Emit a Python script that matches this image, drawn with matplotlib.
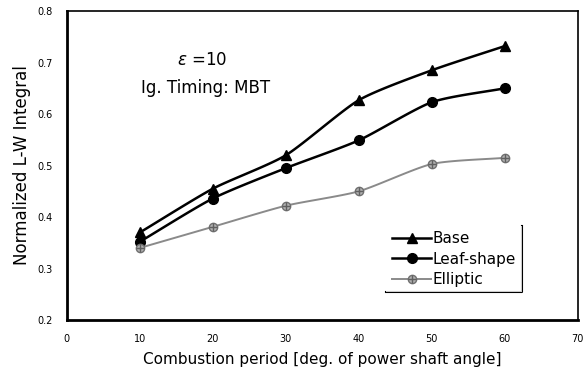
import numpy as np
import matplotlib
matplotlib.use('Agg')
import matplotlib.pyplot as plt
from matplotlib.lines import Line2D

period = [10, 20, 30, 40, 50, 60]
base = [0.370, 0.455, 0.520, 0.627, 0.685, 0.732]
leaf_shape = [0.352, 0.436, 0.495, 0.549, 0.623, 0.650]
elliptic = [0.340, 0.381, 0.422, 0.450, 0.503, 0.515]


def smooth(xs, ys, n=20, k=9.0):
    # mild Bezier smoothing, like spreadsheet "smoothed line"
    x = np.asarray(xs, float)
    y = np.asarray(ys, float)
    px = np.concatenate([[2 * x[0] - x[1]], x, [2 * x[-1] - x[-2]]])
    py = np.concatenate([[2 * y[0] - y[1]], y, [2 * y[-1] - y[-2]]])
    out_x, out_y = [], []
    t = np.linspace(0, 1, n)
    for i in range(1, len(px) - 2):
        for arr, out in ((px, out_x), (py, out_y)):
            p0, p1, p2, p3 = arr[i - 1], arr[i], arr[i + 1], arr[i + 2]
            c1 = p1 + (p2 - p0) / k
            c2 = p2 - (p3 - p1) / k
            seg = ((1 - t) ** 3 * p1 + 3 * (1 - t) ** 2 * t * c1
                   + 3 * (1 - t) * t ** 2 * c2 + t ** 3 * p2)
            out.extend(seg)
    return out_x, out_y


def main():
    fig = plt.figure(figsize=(5.86, 3.81), dpi=100)
    ax = fig.add_axes([0.114, 0.160, 0.872, 0.811])

    sx, sy = smooth(period, base)
    ax.plot(sx, sy, color='black', lw=1.8)
    ax.plot(period, base, '^', color='black', ms=7)
    sx, sy = smooth(period, leaf_shape)
    ax.plot(sx, sy, color='black', lw=1.8)
    ax.plot(period, leaf_shape, 'o', color='black', ms=7)
    sx, sy = smooth(period, elliptic)
    ax.plot(sx, sy, color='#8a8a8a', lw=1.4)
    ax.plot(period, elliptic, 'o', mfc='#b0b0b0', mec='#707070', ms=6)
    ax.plot(period, elliptic, '+', color='#606060', ms=6, mew=1)

    h_base = Line2D([], [], color='black', lw=1.8, marker='^', ms=7)
    h_leaf = Line2D([], [], color='black', lw=1.8, marker='o', ms=7)
    h_ell = (Line2D([], [], color='#8a8a8a', lw=1.4, marker='o',
                    mfc='#b0b0b0', mec='#707070', ms=6),
             Line2D([], [], ls='none', marker='+', color='#606060', ms=6))
    leg = ax.legend([h_base, h_leaf, h_ell], ['Base', 'Leaf-shape', 'Elliptic'],
                    loc='lower right', bbox_to_anchor=(0.905, 0.065),
                    fontsize=11, frameon=True, fancybox=False,
                    handlelength=2.6, handletextpad=0.1, borderpad=0.35,
                    labelspacing=0.35)
    leg.get_frame().set_edgecolor('none')
    leg.get_frame().set_linewidth(0)
    fig.canvas.draw()
    bb = leg.get_window_extent().transformed(ax.transAxes.inverted())
    ax.plot([bb.x0, bb.x1, bb.x1], [bb.y0, bb.y0, bb.y1],
            transform=ax.transAxes, color='black', lw=1.5, clip_on=False)

    ax.text(0.215, 0.825, r'$\varepsilon$ =10', transform=ax.transAxes,
            fontsize=12)
    ax.text(0.145, 0.735, 'Ig. Timing: MBT', transform=ax.transAxes,
            fontsize=12)

    ax.set_xlim(0, 70)
    ax.set_ylim(0.2, 0.8)
    ax.set_xticks(range(0, 71, 10))
    ax.set_yticks([0.2, 0.3, 0.4, 0.5, 0.6, 0.7, 0.8])
    ax.set_yticklabels(['0.2', '0.3', '0.4', '0.5', '0.6', '0.7', '0.8'])
    ax.tick_params(length=0, labelsize=7, pad=10)
    ax.spines['left'].set_linewidth(2)
    ax.spines['bottom'].set_linewidth(2)
    ax.spines['top'].set_linewidth(1.2)
    ax.spines['right'].set_linewidth(1.2)
    ax.set_xlabel('Combustion period [deg. of power shaft angle]', fontsize=11,
                  labelpad=6)
    ax.set_ylabel('Normalized L-W Integral', fontsize=12, labelpad=5)

    fig.savefig('out.png', dpi=100)


if __name__ == '__main__':
    main()
